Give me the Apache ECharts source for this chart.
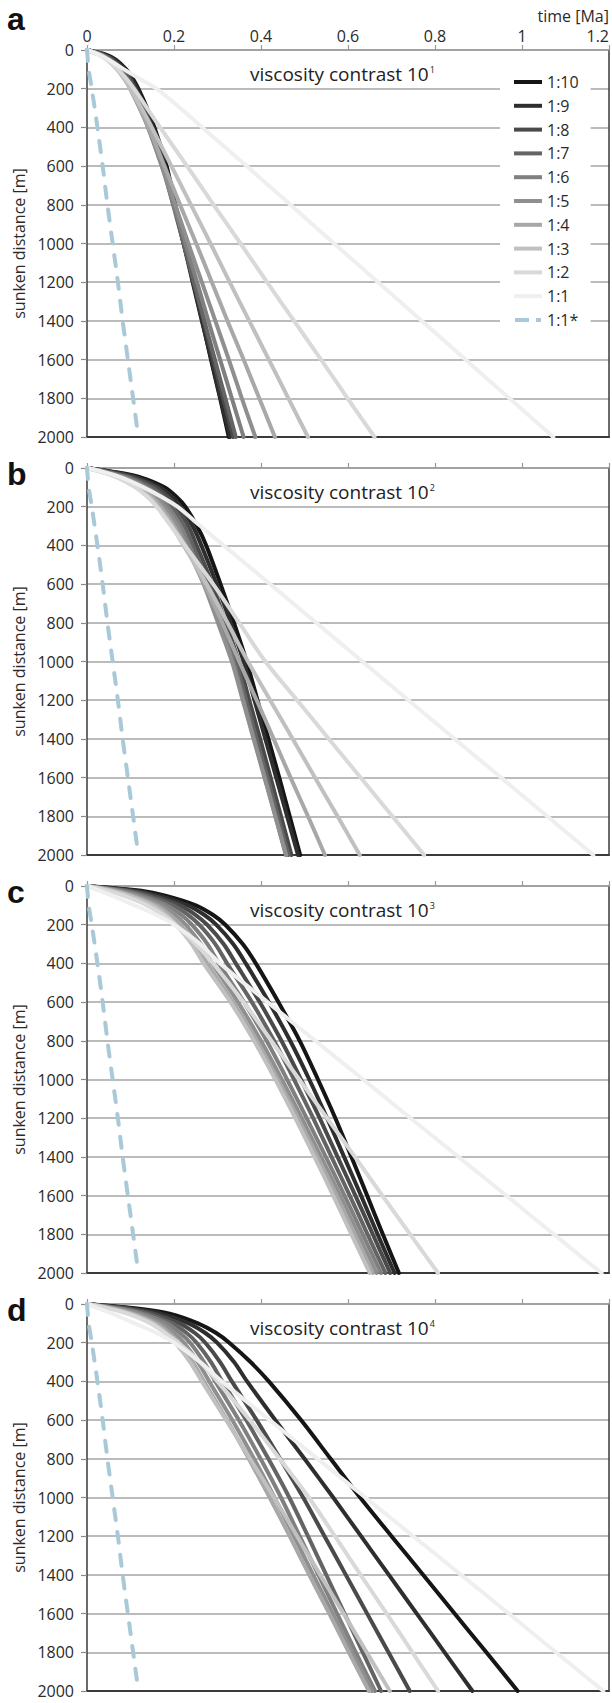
<!DOCTYPE html>
<html>
<head>
<meta charset="utf-8">
<script src="https://cdn.jsdelivr.net/npm/echarts@6/dist/echarts.min.js"></script>
<style>
  html, body { margin: 0; padding: 0; background: #fff; }
  #chart { width: 612px; height: 1703px; }
</style>
</head>
<body>
<div id="chart"></div>
<script>
// Density ratios shown in every panel (legend order)
const ratios = ['1:10', '1:9', '1:8', '1:7', '1:6', '1:5', '1:4', '1:3', '1:2', '1:1'];
const refName = '1:1*';
const ratioColors = ['#151515', '#2e2e2e', '#4a4a4a', '#646464', '#808080', '#8f8f8f',
                     '#a8a8a8', '#c0c0c0', '#d9d9d9', '#efefef'];
const refColor = '#a9c9d9';

// Sunken distance [m] at which each curve is sampled
const depthSteps = [0, 25, 50, 100, 150, 200, 300, 400, 600, 800, 1000, 1200, 1400, 1600, 1800, 2000];

// Time [Ma] reached at each depth; one row per ratio, 1:10 first
const timesA = [
  [0, .045, .066, .090, .106, .118, .138, .155, .183, .203, .224, .244, .265, .285, .306, .326],
  [0, .042, .063, .087, .103, .115, .135, .152, .180, .201, .222, .243, .264, .286, .307, .329],
  [0, .039, .059, .083, .099, .111, .131, .148, .177, .200, .222, .245, .268, .290, .313, .336],
  [0, .036, .055, .079, .095, .107, .127, .144, .174, .198, .222, .246, .270, .294, .318, .342],
  [0, .034, .052, .075, .091, .103, .123, .141, .172, .199, .226, .253, .279, .306, .333, .360],
  [0, .032, .049, .072, .088, .100, .121, .140, .172, .203, .233, .264, .295, .326, .356, .387],
  [0, .030, .047, .070, .086, .099, .121, .142, .178, .214, .251, .287, .323, .360, .396, .432],
  [0, .029, .046, .069, .086, .100, .125, .149, .194, .239, .284, .328, .373, .418, .463, .508],
  [0, .028, .046, .071, .091, .108, .138, .168, .230, .291, .353, .414, .476, .538, .599, .661],
  [0, .028, .050, .085, .122, .160, .214, .265, .367, .468, .568, .669, .770, .870, .971, 1.072]
];
const timesB = [
  [0, .075, .125, .178, .206, .226, .253, .274, .307, .338, .367, .392, .417, .442, .466, .490],
  [0, .070, .117, .168, .196, .215, .243, .263, .298, .330, .360, .385, .410, .435, .460, .485],
  [0, .064, .108, .158, .186, .205, .233, .252, .288, .319, .349, .373, .398, .422, .446, .470],
  [0, .058, .100, .148, .176, .195, .224, .243, .280, .311, .342, .366, .390, .415, .439, .463],
  [0, .053, .092, .139, .167, .186, .215, .235, .273, .305, .336, .360, .384, .409, .433, .457],
  [0, .049, .085, .131, .159, .178, .208, .228, .268, .301, .333, .358, .383, .408, .433, .458],
  [0, .045, .078, .122, .150, .170, .200, .225, .270, .311, .350, .390, .429, .468, .508, .547],
  [0, .042, .073, .115, .143, .163, .195, .222, .275, .323, .370, .421, .473, .524, .576, .627],
  [0, .040, .070, .111, .139, .160, .193, .225, .290, .350, .410, .483, .556, .629, .702, .775],
  [0, .045, .080, .130, .172, .208, .261, .314, .421, .527, .633, .739, .845, .952, 1.058, 1.164]
];
const timesC = [
  [0, .125, .180, .250, .290, .318, .358, .388, .440, .489, .531, .571, .608, .644, .680, .717],
  [0, .112, .165, .232, .270, .297, .336, .365, .418, .467, .511, .552, .591, .630, .668, .707],
  [0, .100, .150, .214, .250, .276, .314, .342, .397, .447, .492, .535, .576, .617, .657, .697],
  [0, .090, .137, .198, .233, .258, .295, .322, .379, .430, .476, .520, .562, .604, .645, .686],
  [0, .080, .124, .183, .217, .241, .277, .303, .361, .413, .460, .505, .549, .592, .634, .676],
  [0, .072, .113, .170, .203, .227, .262, .288, .347, .400, .448, .494, .538, .582, .624, .666],
  [0, .065, .104, .159, .191, .215, .250, .276, .336, .390, .439, .485, .530, .574, .616, .657],
  [0, .060, .097, .150, .182, .205, .241, .268, .330, .384, .433, .479, .523, .566, .608, .650],
  [0, .048, .085, .138, .175, .203, .250, .290, .360, .424, .488, .552, .616, .679, .743, .807],
  [0, .030, .058, .110, .160, .200, .260, .306, .415, .525, .635, .744, .854, .964, 1.073, 1.183]
];
const timesD = [
  [0, .120, .190, .255, .297, .327, .376, .418, .492, .560, .628, .700, .773, .845, .918, .990],
  [0, .108, .170, .234, .272, .299, .338, .368, .433, .500, .566, .630, .694, .758, .822, .886],
  [0, .096, .153, .213, .248, .272, .306, .333, .390, .444, .497, .546, .595, .644, .693, .742],
  [0, .086, .139, .196, .229, .252, .285, .311, .366, .417, .465, .508, .550, .592, .634, .676],
  [0, .078, .127, .183, .214, .237, .269, .295, .349, .399, .446, .489, .532, .575, .618, .662],
  [0, .070, .116, .170, .201, .223, .255, .281, .334, .384, .431, .476, .520, .565, .610, .655],
  [0, .063, .106, .159, .189, .211, .243, .269, .322, .372, .420, .466, .511, .557, .602, .648],
  [0, .058, .099, .151, .181, .203, .237, .264, .320, .375, .430, .483, .536, .590, .643, .696],
  [0, .054, .093, .146, .180, .210, .260, .300, .374, .443, .510, .570, .629, .689, .748, .807],
  [0, .030, .058, .110, .160, .200, .260, .310, .420, .530, .640, .750, .860, .970, 1.078, 1.187]
];

// Reference case 1:1* (same in every panel)
const refDepths = [0, 100, 200, 400, 600, 800, 1000, 1200, 1400, 1600, 1800, 2000];
const refTimes = [0, .004, .011, .024, .036, .047, .059, .071, .082, .094, .106, .118];

const panelTimes = [timesA, timesB, timesC, timesD];
const panelLetters = ['a', 'b', 'c', 'd'];
const contrastExponents = ['1', '2', '3', '4'];

// Layout of the four stacked plots
const panelTops = [50, 468, 886, 1304];
const panelHeight = 387;
const FONT = '"Open Sans", "DejaVu Sans", sans-serif';

const chart = echarts.init(document.getElementById('chart'), null, { renderer: 'svg' });

const grid = [], xAxis = [], yAxis = [], series = [], graphic = [];

panelTops.forEach((top, p) => {
  grid.push({ left: 87, right: 3, top: top, height: panelHeight });

  // top time axis (labels only on the first panel)
  xAxis.push({
    type: 'value', gridIndex: p, position: 'top', min: 0, max: 1.2, interval: 0.2,
    axisLine: { show: true, lineStyle: { color: '#9a9a9a', width: 1.5 } },
    axisTick: { show: true, inside: false, length: 5, lineStyle: { color: '#9a9a9a', width: 1.2 } },
    axisLabel: { show: p === 0, fontSize: 16, color: '#2a2a2a', fontFamily: FONT, margin: 6, alignMaxLabel: 'right' },
    splitLine: { show: false }
  });
  // bottom frame line
  xAxis.push({
    type: 'value', gridIndex: p, position: 'bottom', min: 0, max: 1.2, interval: 0.2,
    axisLine: { show: true, onZero: false, lineStyle: { color: '#3a3a3a', width: 2 } },
    axisTick: { show: false }, axisLabel: { show: false }, splitLine: { show: false }
  });

  yAxis.push({
    type: 'value', gridIndex: p, inverse: true, min: 0, max: 2000, interval: 200,
    name: 'sunken distance [m]', nameLocation: 'middle', nameRotate: 90, nameGap: 54,
    nameTextStyle: { fontSize: 16, color: '#2a2a2a', fontFamily: FONT },
    axisLine: { show: true, onZero: false, lineStyle: { color: '#3a3a3a', width: 1.5 } },
    axisTick: { show: true, inside: false, length: 6, lineStyle: { color: '#8a8a8a', width: 1.2 } },
    axisLabel: { fontSize: 16, lineHeight: 12, color: '#2a2a2a', fontFamily: FONT, margin: 13, formatter: v => String(v) },
    splitLine: { show: true, lineStyle: { color: '#a4a4a4', width: 1.5 } }
  });
  // right frame line
  yAxis.push({
    type: 'value', gridIndex: p, position: 'right', inverse: true, min: 0, max: 2000, interval: 200,
    axisLine: { show: true, onZero: false, lineStyle: { color: '#3a3a3a', width: 1.5 } },
    axisTick: { show: false }, axisLabel: { show: false }, splitLine: { show: false }
  });

  const times = panelTimes[p];
  ratios.forEach((name, r) => {
    series.push({
      type: 'line', name: name, xAxisIndex: 2 * p, yAxisIndex: 2 * p,
      data: depthSteps.map((d, k) => [times[r][k], d]),
      smooth: 0.3, symbol: 'none', silent: true,
      lineStyle: { color: ratioColors[r], width: 4, cap: 'round', join: 'round' },
      itemStyle: { color: ratioColors[r] }
    });
  });
  series.push({
    type: 'line', name: refName, xAxisIndex: 2 * p, yAxisIndex: 2 * p,
    data: refDepths.map((d, k) => [refTimes[k], d]),
    smooth: 0.3, symbol: 'none', silent: true,
    lineStyle: { color: refColor, width: 4, type: [11, 12], cap: 'round' },
    itemStyle: { color: refColor }
  });

  // panel letter
  graphic.push({
    type: 'text', x: 7, y: p === 0 ? 19 : top + 6,
    style: { text: panelLetters[p], font: 'bold 32px "Liberation Sans", Arial, sans-serif',
             fill: '#111', verticalAlign: 'middle', align: 'left' }
  });
  // viscosity contrast caption
  graphic.push({
    type: 'text', x: 250, y: top + 24,
    style: {
      text: 'viscosity contrast 10{s|' + contrastExponents[p] + '}',
      fontFamily: FONT, fontSize: 19, fill: '#222', verticalAlign: 'middle', align: 'left',
      rich: { s: { fontSize: 9, fontFamily: FONT, fill: '#222', verticalAlign: 'top', lineHeight: 10, padding: [0, 0, 10, 1] } }
    }
  });
});

graphic.push({
  type: 'text', x: 609, y: 16,
  style: { text: 'time [Ma]', fontFamily: FONT, fontSize: 16, fill: '#2a2a2a', align: 'right', verticalAlign: 'middle' }
});

// legend swatches: solid bars, and dash + dot for the reference case
const solidIcon = 'path://M0,0h28v4h-28z';
const dashIcon = 'path://M0,0h14v4h-14z M21,0h5v4h-5z';

chart.setOption({
  animation: false,
  backgroundColor: '#fff',
  grid: grid,
  xAxis: xAxis,
  yAxis: yAxis,
  legend: {
    data: ratios.map(n => ({ name: n, icon: solidIcon })).concat([{ name: refName, icon: dashIcon }]),
    orient: 'vertical', left: 500, top: 60,
    padding: [14, 12, 10, 14],
    backgroundColor: '#fff',
    itemWidth: 28, itemHeight: 4, itemGap: 7.8, itemTextGap: 10,
    selectedMode: false,
    textStyle: { fontSize: 16, color: '#2a2a2a', fontFamily: FONT, lineHeight: 14 }
  },
  series: series,
  graphic: graphic
});
</script>
</body>
</html>
